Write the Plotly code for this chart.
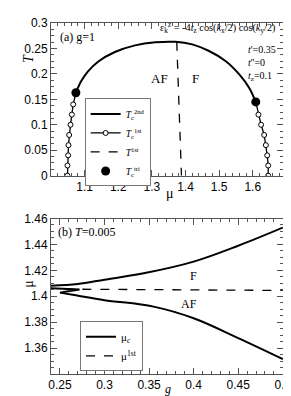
import plotly.graph_objects as go

# ---- panel (a) data ----
mu_2nd = [1.074, 1.09, 1.11, 1.14, 1.19, 1.25, 1.31, 1.37, 1.42, 1.47, 1.52, 1.56, 1.59, 1.609]
T_2nd = [0.163, 0.186, 0.205, 0.224, 0.243, 0.256, 0.262, 0.263, 0.258, 0.245, 0.225, 0.199, 0.172, 0.145]

T_1st_left = [0.0, 0.02, 0.04, 0.06, 0.08, 0.10, 0.12, 0.14]
mu_1st_left = [1.049, 1.049, 1.051, 1.052, 1.054, 1.058, 1.062, 1.066]
T_1st_right = [0.0, 0.02, 0.04, 0.06, 0.08, 0.10, 0.12]
mu_1st_right = [1.646, 1.646, 1.643, 1.639, 1.634, 1.625, 1.617]

mu_first_line = [1.374, 1.388]
T_first_line = [0.263, 0.0]

mu_tri = [1.074, 1.609]
T_tri = [0.163, 0.145]

# ---- panel (b) data ----
g_upper = [0.24, 0.27, 0.30, 0.344, 0.40, 0.45, 0.50]
mu_upper = [1.4082, 1.4095, 1.4128, 1.4177, 1.4267, 1.4390, 1.4530]
g_swallow = [0.24, 0.255, 0.272, 0.261, 0.25]
mu_swallow = [1.4062, 1.4058, 1.4052, 1.4040, 1.4028]
g_lower = [0.25, 0.266, 0.30, 0.355, 0.40, 0.45, 0.50]
mu_lower = [1.4028, 1.4010, 1.3970, 1.3920, 1.3830, 1.3677, 1.3515]
g_first = [0.255, 0.50]
mu_first = [1.4055, 1.4045]

fig = go.Figure()
blk = "black"

# panel (a)
fig.add_trace(go.Scatter(x=mu_2nd, y=T_2nd, mode="lines", line=dict(color=blk, width=2, shape="spline"),
                         name="<i>T</i><sub>c</sub><sup>2nd</sup>", xaxis="x", yaxis="y", legend="legend"))
fig.add_trace(go.Scatter(x=mu_1st_left + [mu_tri[0]], y=T_1st_left + [T_tri[0]], mode="lines+markers",
                         line=dict(color=blk, width=1.3),
                         marker=dict(symbol="circle", size=5, color="white", line=dict(color=blk, width=1)),
                         name="<i>T</i><sub>c</sub><sup>1st</sup>", xaxis="x", yaxis="y", legend="legend",
                         legendgroup="c1"))
fig.add_trace(go.Scatter(x=mu_1st_right + [mu_tri[1]], y=T_1st_right + [T_tri[1]], mode="lines+markers",
                         line=dict(color=blk, width=1.3),
                         marker=dict(symbol="circle", size=5, color="white", line=dict(color=blk, width=1)),
                         name="c1r", showlegend=False, xaxis="x", yaxis="y", legendgroup="c1"))
fig.add_trace(go.Scatter(x=mu_first_line, y=T_first_line, mode="lines", line=dict(color=blk, width=1.3, dash="dash"),
                         name="<i>T</i><sup>1st</sup>", xaxis="x", yaxis="y", legend="legend"))
fig.add_trace(go.Scatter(x=mu_tri, y=T_tri, mode="markers", marker=dict(color=blk, size=9),
                         name="<i>T</i><sub>c</sub><sup>tri</sup>", xaxis="x", yaxis="y", legend="legend"))

# panel (b)
fig.add_trace(go.Scatter(x=g_upper, y=mu_upper, mode="lines", line=dict(color=blk, width=2, shape="spline"),
                         name="μ<sub><i>c</i></sub>", xaxis="x2", yaxis="y2", legend="legend2", legendgroup="muc"))
fig.add_trace(go.Scatter(x=g_swallow, y=mu_swallow, mode="lines", line=dict(color=blk, width=2),
                         showlegend=False, xaxis="x2", yaxis="y2", legendgroup="muc"))
fig.add_trace(go.Scatter(x=g_lower, y=mu_lower, mode="lines", line=dict(color=blk, width=2, shape="spline"),
                         showlegend=False, xaxis="x2", yaxis="y2", legendgroup="muc"))
fig.add_trace(go.Scatter(x=g_first, y=mu_first, mode="lines", line=dict(color=blk, width=1.3, dash="dash"),
                         name="μ<sup>1st</sup>", xaxis="x2", yaxis="y2", legend="legend2"))

axcommon = dict(showline=True, linecolor="#555", linewidth=1, mirror="allticks", ticks="inside",
                ticklen=6, tickcolor="#555", showgrid=False, zeroline=False, ticklabeloverflow="allow",
                tickfont=dict(family="Liberation Sans, Arial", size=12, color="black"))

fig.update_layout(
    width=291, height=396, plot_bgcolor="white", paper_bgcolor="white",
    margin=dict(l=43, r=8, t=14, b=30),
    xaxis=dict(domain=[0, 1], anchor="y", range=[1.0, 1.69], tickvals=[1.1, 1.2, 1.3, 1.4, 1.5, 1.6],
               ticktext=["1.1", "1.2", "1.3", "1.4", "1.5", "1.6"],
               minor=dict(ticks="inside", ticklen=3, dtick=0.02, tick0=1.0, tickcolor="#555"), **axcommon),
    yaxis=dict(domain=[0.565, 1.0], anchor="x", range=[0, 0.3], tickvals=[0, 0.05, 0.1, 0.15, 0.2, 0.25, 0.3],
               ticktext=["0", "0.05", "0.1", "0.15", "0.2", "0.25", "0.3"],
               minor=dict(ticks="inside", ticklen=3, dtick=0.0125, tick0=0, tickcolor="#555"), **axcommon),
    xaxis2=dict(domain=[0, 1], anchor="y2", range=[0.24, 0.5002], tickvals=[0.25, 0.3, 0.35, 0.4, 0.45, 0.5],
                ticktext=["0.25", "0.3", "0.35", "0.4", "0.45", "0.5"],
                minor=dict(ticks="inside", ticklen=3, dtick=0.01, tick0=0.24, tickcolor="#555"), **axcommon),
    yaxis2=dict(domain=[0, 0.443], anchor="x2", range=[1.34, 1.46], tickvals=[1.36, 1.38, 1.40, 1.42, 1.44, 1.46],
                ticktext=["1.36", "1.38", "1.4", "1.42", "1.44", "1.46"],
                minor=dict(ticks="inside", ticklen=3, dtick=0.005, tick0=1.34, tickcolor="#555"), **axcommon),
    legend=dict(x=0.145, y=0.785, xanchor="left", yanchor="top", bgcolor="white", bordercolor="#777", borderwidth=1,
                font=dict(family="Liberation Serif", size=9.5, color="black"), tracegroupgap=0,
                itemwidth=30),
    legend2=dict(x=0.125, y=0.15, xanchor="left", yanchor="top", bgcolor="white", bordercolor="#777", borderwidth=1,
                 font=dict(family="Liberation Serif", size=11, color="black"), tracegroupgap=0, itemwidth=30),
    showlegend=True,
)

serif = dict(family="Liberation Serif, Times New Roman", color="black")
ann = [
    dict(x=0.03, y=0.985, xref="paper", yref="paper", text="(a) g=1", showarrow=False, xanchor="left", yanchor="top",
         font=dict(size=12, **serif)),
    dict(x=0.46, y=1.01, xref="paper", yref="paper",
         text="ε<sub>k</sub><sup>z</sup> = -4<i>t</i><sub>z</sub> cos(<i>k</i><sub>x</sub>/2) cos(<i>k</i><sub>y</sub>/2)",
         showarrow=False, xanchor="left", yanchor="top", font=dict(size=10.3, **serif)),
    dict(x=0.84, y=0.945, xref="paper", yref="paper", text="<i>t</i>'=0.35<br><i>t</i>''=0<br><i>t</i><sub>z</sub>=0.1",
         showarrow=False, xanchor="left", yanchor="top", align="left", font=dict(size=10, **serif)),
    dict(x=1.323, y=0.19, xref="x", yref="y", text="AF", showarrow=False, font=dict(size=13, **serif)),
    dict(x=1.43, y=0.19, xref="x", yref="y", text="F", showarrow=False, font=dict(size=13, **serif)),
    dict(x=-0.1375, y=0.918, xref="paper", yref="paper", text="<i>T</i>", showarrow=False, textangle=-90,
         font=dict(size=14, **serif)),
    dict(x=0.5125, y=0.514, xref="paper", yref="paper", text="μ", showarrow=False, yanchor="middle",
         font=dict(size=14, **serif)),
    dict(x=0.02, y=0.43, xref="paper", yref="paper", text="(b) <i>T</i>=0.005", showarrow=False,
         xanchor="left", yanchor="top", font=dict(size=12, **serif)),
    dict(x=0.40, y=1.416, xref="x2", yref="y2", text="F", showarrow=False, font=dict(size=12, **serif)),
    dict(x=0.395, y=1.394, xref="x2", yref="y2", text="AF", showarrow=False, font=dict(size=12, **serif)),
    dict(x=-0.1375, y=0.239, xref="paper", yref="paper", text="μ", showarrow=False, textangle=-90,
         font=dict(size=14, **serif)),
    dict(x=0.505, y=-0.044, xref="paper", yref="paper", text="<i>g</i>", showarrow=False, yanchor="middle",
         font=dict(size=12, **serif)),
]
fig.update_layout(annotations=ann)
fig.write_html("out.html")
